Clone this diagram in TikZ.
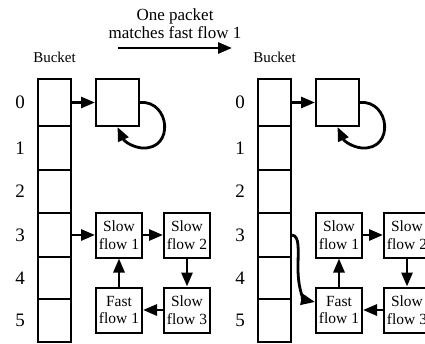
\documentclass[tikz,border=0pt]{standalone}
\usepackage{fontspec}
\setmainfont{Liberation Serif}
\usetikzlibrary{arrows.meta,positioning}

\tikzset{
  cell/.style={draw, line width=2pt, minimum width=33pt, inner sep=0pt},
  flowbox/.style={draw, line width=2pt, minimum width=46pt, minimum height=45pt,
    inner sep=0pt, align=center, font=\fontsize{15.5}{17.5}\selectfont},
  digit/.style={inner sep=0pt, font=\fontsize{19}{20}\selectfont},
  caption/.style={inner sep=0pt, font=\fontsize{15}{16}\selectfont},
  link/.style={line width=2.8pt, -{Triangle[length=14pt,width=11pt]}}
}

\begin{document}
\begin{tikzpicture}[x=1pt,y=-1pt]
\useasboundingbox (0,0) rectangle (425,343);
\clip (0,0) rectangle (425,343);

% what happens between the two pictures
\node[align=center, inner sep=0pt, font=\fontsize{17}{18}\selectfont] (title) at (175,24)
  {One packet\\matches fast flow 1};
\coordinate (goL) at (118,48);
\coordinate (goR) at (232,48);
\draw[link] (goL) -- (goR);

% the two hash tables, before and after
\foreach \s/\dx in {L/0,R/220}{
  \begin{scope}[xshift=\dx pt]
    \foreach \i/\t/\b in {0/79/126,1/126/170,2/170/213,3/213/257,4/257/299,5/299/342}{
      \node[cell, minimum height={(\b-\t)*1pt}] (\s-c\i) at (54.5,{(\t+\b)/2}) {};
      \node[digit, left=12pt of \s-c\i] (\s-n\i) {\i};
    }
    \node[caption, above=15pt of \s-c0] (\s-bucket) {Bucket};

    \node[flowbox, minimum width=43pt, minimum height=47pt] (\s-b0) at (117.5,102.5) {};
    \node[flowbox] (\s-sf1) at (119,235) {Slow\\flow 1};
    \node[flowbox, right=20pt of \s-sf1] (\s-sf2) {Slow\\flow 2};
    \node[flowbox, below=28pt of \s-sf1] (\s-ff1) {Fast\\flow 1};
    \node[flowbox, below=28pt of \s-sf2] (\s-sf3) {Slow\\flow 3};

    \draw[link] (\s-c0.east) -- (\s-b0.west);
    \draw[link] (\s-b0.east) .. controls (170,100) and (175,150) .. (142,148)
      .. controls (132,147) and (124,141) .. (\s-b0.south);

    \draw[link] (\s-sf1) -- (\s-sf2);
    \draw[link] (\s-sf2) -- (\s-sf3);
    \draw[link] (\s-sf3) -- (\s-ff1);
    \draw[link] (\s-ff1) -- (\s-sf1);
  \end{scope}
}

% bucket 3 points at slow flow 1 before, at fast flow 1 after
\draw[link] (L-c3.east) -- (L-sf1.west);
\draw[link] (R-c3.east) .. controls (300,236) and (298,250) .. (298,268)
  .. controls (298,292) and (305,300) .. ([yshift=8pt]R-ff1.west);
\end{tikzpicture}
\end{document}
